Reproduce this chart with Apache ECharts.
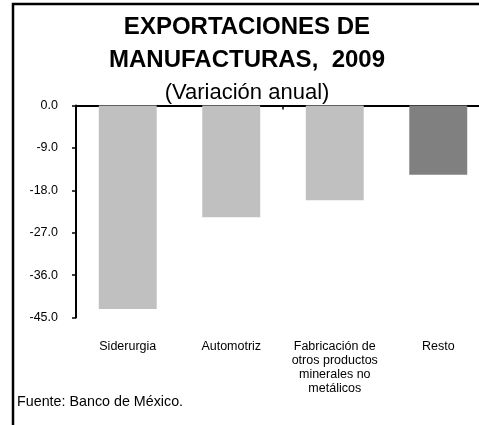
<!DOCTYPE html>
<html>
<head>
<meta charset="utf-8">
<script src="https://cdn.jsdelivr.net/npm/echarts@6/dist/echarts.min.js"></script>
<style>html,body{margin:0;padding:0;background:#fff;overflow:hidden;width:479px;height:425px;}#c{width:500px;height:425px;}</style>
</head>
<body>
<div id="c"></div>
<script>
const categories = ['Siderurgia', 'Automotriz', 'Fabricación de\notros productos\nminerales no\nmetálicos', 'Resto'];
const values = [-43.2, -23.7, -20.1, -14.7];
const barColors = ['#C0C0C0', '#C0C0C0', '#C0C0C0', '#808080'];
const titleText = 'EXPORTACIONES DE\nMANUFACTURAS,  2009';
const subtitleText = '(Variación anual)';
const sourceText = 'Fuente: Banco de México.';

const FONT = '"Liberation Sans", Arial, sans-serif';
const chart = echarts.init(document.getElementById('c'), null, {renderer: 'canvas'});
chart.setOption({
  animation: false,
  backgroundColor: '#fff',
  title: {
    text: titleText,
    subtext: subtitleText,
    left: 247,
    textAlign: 'center',
    top: 11,
    padding: 0,
    itemGap: 4,
    textStyle: {fontFamily: FONT, fontSize: 24, fontWeight: 'bold', color: '#000', lineHeight: 33},
    subtextStyle: {fontFamily: FONT, fontSize: 22, color: '#000', lineHeight: 24}
  },
  grid: {left: 76, top: 105.5, width: 414, height: 212, containLabel: false},
  xAxis: [
    {
      type: 'category', data: categories, position: 'top',
      axisLine: {show: true, onZero: false, lineStyle: {color: '#000', width: 2}},
      axisTick: {show: true, inside: true, length: 4, lineStyle: {color: '#000', width: 1.5}},
      axisLabel: {show: false}, splitLine: {show: false}
    },
    {
      type: 'category', data: categories, position: 'bottom',
      axisLine: {show: false, onZero: false}, axisTick: {show: false},
      axisLabel: {show: true, margin: 22, interval: 0, fontFamily: FONT, fontSize: 12.5, color: '#000', lineHeight: 14, align: 'center', verticalAlign: 'top'},
      splitLine: {show: false}
    }
  ],
  yAxis: {
    type: 'value', min: -45, max: 0, interval: 9,
    axisLine: {show: true, lineStyle: {color: '#000', width: 2}},
    axisTick: {show: true, length: 4, lineStyle: {color: '#000', width: 1.5}},
    axisLabel: {fontFamily: FONT, fontSize: 12.5, color: '#000', margin: 18, formatter: v => v.toFixed(1)},
    splitLine: {show: false}
  },
  series: [{
    type: 'bar', xAxisIndex: 0, barWidth: '56%',
    data: values.map((v, i) => ({value: v, itemStyle: {color: barColors[i]}}))
  }],
  graphic: [
    {type: 'rect', shape: {x: 13, y: 4, width: 520, height: 500}, style: {fill: 'none', stroke: '#000', lineWidth: 2.5}, silent: true, z: 100},
    {type: 'text', left: 17, top: 395, style: {text: sourceText, font: '14.3px "Liberation Sans", Arial, sans-serif', fill: '#000'}}
  ]
});
</script>
</body>
</html>
